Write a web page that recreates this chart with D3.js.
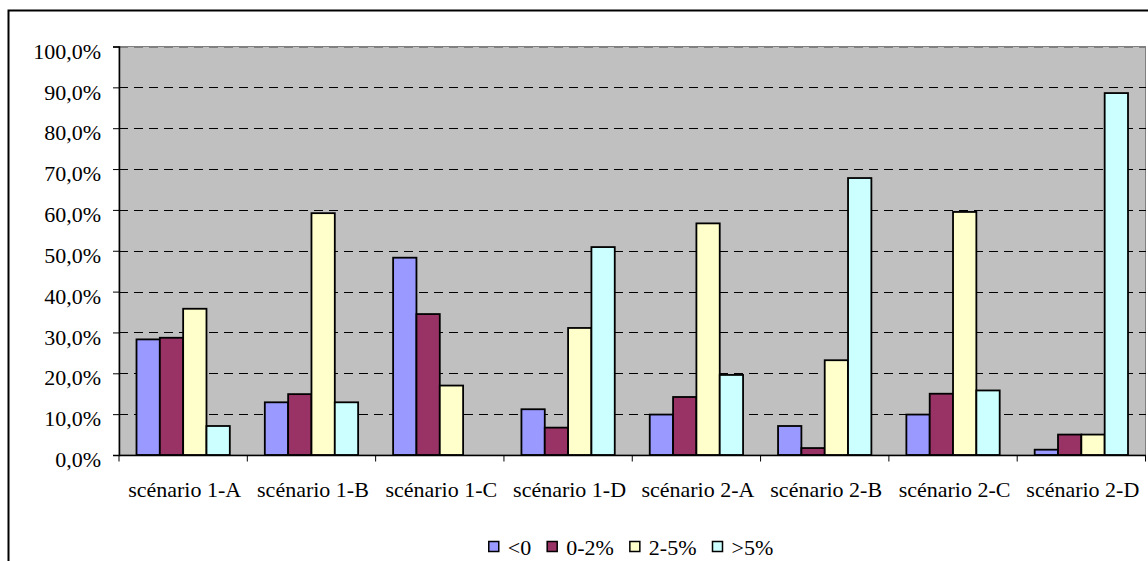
<!DOCTYPE html>
<html>
<head>
<meta charset="utf-8">
<script src="https://cdn.jsdelivr.net/npm/d3@7"></script>
<style>
  body { margin: 0; background: #fff; }
  svg { display: block; }
  text { font-family: "Liberation Serif", "Times New Roman", serif; font-size: 22px; fill: #000; }
</style>
</head>
<body>
<div id="chart"></div>
<script>
// Data (percent)
var categories = ['scénario 1-A', 'scénario 1-B', 'scénario 1-C', 'scénario 1-D',
                  'scénario 2-A', 'scénario 2-B', 'scénario 2-C', 'scénario 2-D'];
var seriesNames = ['<0', '0-2%', '2-5%', '>5%'];
var seriesColors = ['#9999ff', '#993366', '#ffffcc', '#ccffff'];
var lessThanZero = [28.3, 12.9, 48.3, 11.2, 9.9, 7.1, 9.9, 1.3];
var zeroToTwo = [28.7, 14.9, 34.5, 6.7, 14.2, 1.7, 15.0, 5.0];
var twoToFive = [35.8, 59.2, 17.0, 31.1, 56.7, 23.2, 59.5, 5.0];
var moreThanFive = [7.1, 12.9, null, 50.9, 19.6, 67.8, 15.8, 88.6];
var yTicks = [0, 10, 20, 30, 40, 50, 60, 70, 80, 90, 100];

var seriesValues = [lessThanZero, zeroToTwo, twoToFive, moreThanFive];

var width = 1148, height = 561;
var plot = {left: 119, right: 1145.5, top: 46.5, bottom: 455};

var svg = d3.select('#chart').append('svg')
  .attr('width', width)
  .attr('height', height);

// Outer chart border (runs past the right / bottom edge of the picture)
svg.append('rect')
  .attr('x', 8.5).attr('y', 10.5)
  .attr('width', 1300).attr('height', 700)
  .attr('fill', 'none')
  .attr('stroke', '#000')
  .attr('stroke-width', 2);

// Scales
var x0 = d3.scaleBand().domain(categories).range([plot.left, plot.right]);
var bw = x0.bandwidth();
var barW = bw / 5.5;
var x1 = d3.scaleBand().domain(seriesNames).range([0.75 * barW, 4.75 * barW]);
var y = d3.scaleLinear().domain([0, 100]).range([plot.bottom, plot.top]);

// Plot area
svg.append('rect')
  .attr('x', plot.left).attr('y', plot.top)
  .attr('width', plot.right - plot.left).attr('height', plot.bottom - plot.top)
  .attr('fill', '#c0c0c0')
  .attr('stroke', '#808080')
  .attr('stroke-width', 1);

// Dashed gridlines
svg.append('g')
  .selectAll('line')
  .data(yTicks.filter(function(d) { return d > 0; }))
  .enter().append('line')
    .attr('x1', plot.left).attr('x2', plot.right)
    .attr('y1', function(d) { return Math.round(y(d)) + 0.5; })
    .attr('y2', function(d) { return Math.round(y(d)) + 0.5; })
    .attr('stroke', function(d) { return d === 100 ? '#808080' : '#000'; })
    .attr('stroke-dasharray', '9,6')
    .attr('shape-rendering', 'crispEdges');

// Bars
var rows = [];
categories.forEach(function(c, i) {
  seriesNames.forEach(function(s, j) {
    if (seriesValues[j][i] !== null) {
      rows.push({cat: c, series: s, color: seriesColors[j], value: seriesValues[j][i]});
    }
  });
});

svg.append('g')
  .selectAll('rect')
  .data(rows)
  .enter().append('rect')
    .attr('x', function(d) { return x0(d.cat) + x1(d.series); })
    .attr('y', function(d) { return y(d.value); })
    .attr('width', x1.bandwidth())
    .attr('height', function(d) { return y(0) - y(d.value); })
    .attr('fill', function(d) { return d.color; })
    .attr('stroke', '#000')
    .attr('stroke-width', 1.8);

// Y axis
var fmt = d3.format('.1f');
var yAxis = d3.axisLeft(y)
  .tickValues(yTicks)
  .tickSize(6)
  .tickPadding(12)
  .tickFormat(function(d) { return fmt(d).replace('.', ',') + '%'; });

var yg = svg.append('g')
  .attr('transform', 'translate(' + plot.left + ',0)')
  .call(yAxis);
yg.select('.domain').attr('stroke', '#000').attr('stroke-width', 1.5);
yg.selectAll('.tick line').attr('stroke', '#000');
yg.selectAll('.tick text')
  .attr('font-family', null).attr('font-size', null)
  .attr('dy', '0.53em');

// X axis
var xAxis = d3.axisBottom(x0).tickSize(0).tickPadding(0).tickFormat('');
var xg = svg.append('g')
  .attr('transform', 'translate(0,' + plot.bottom + ')')
  .call(xAxis);
xg.select('.domain').attr('stroke', '#000').attr('stroke-width', 1.5);
xg.selectAll('.tick').remove();

// Tick marks on category boundaries
var bounds = categories.map(function(c) { return x0(c); }).concat([plot.right]);
xg.selectAll('line.bound')
  .data(bounds)
  .enter().append('line')
    .attr('class', 'bound')
    .attr('x1', function(d) { return d; }).attr('x2', function(d) { return d; })
    .attr('y1', 0).attr('y2', 6.5)
    .attr('stroke', '#000');

// Category labels
svg.append('g')
  .selectAll('text')
  .data(categories)
  .enter().append('text')
    .attr('x', function(d) { return x0(d) + bw / 2 + 1.5; })
    .attr('y', 497)
    .attr('text-anchor', 'middle')
    .text(function(d) { return d; });

// Legend
var legend = svg.append('g');
var items = legend.selectAll('g')
  .data(seriesNames)
  .enter().append('g');
items.append('rect')
  .attr('width', 10).attr('height', 10)
  .attr('y', 541.5)
  .attr('fill', function(d, i) { return seriesColors[i]; })
  .attr('stroke', '#000')
  .attr('stroke-width', 1.5);
items.append('text')
  .attr('x', 19)
  .attr('y', 555)
  .text(function(d) { return d; });

var offsets = [], pos = 0;
items.each(function() {
  offsets.push(pos);
  pos += 19 + d3.select(this).select('text').node().getComputedTextLength() + 16;
});
var total = pos - 16;
var startX = 631 - total / 2;
items.attr('transform', function(d, i) { return 'translate(' + (startX + offsets[i]) + ',0)'; });
</script>
</body>
</html>
